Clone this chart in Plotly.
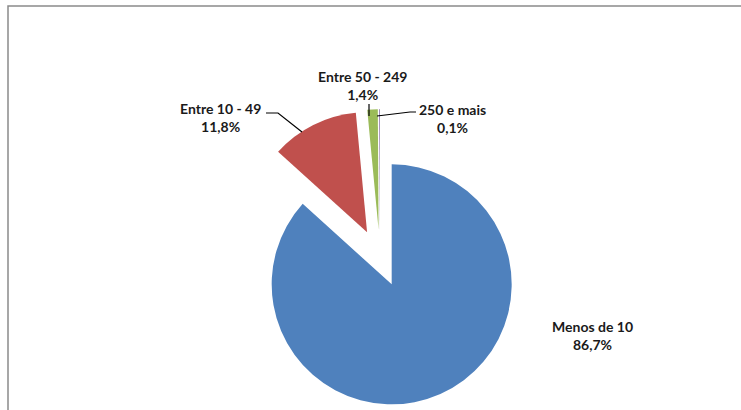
import plotly.graph_objects as go

# Data
categories = ["Menos de 10", "Entre 10 - 49", "Entre 50 - 249", "250 e mais"]
values = [86.7, 11.8, 1.4, 0.1]
value_labels = ["86,7%", "11,8%", "1,4%", "0,1%"]
colors = ["#4F81BD", "#C0504D", "#9BBB59", "#8064A2"]

W, H = 741, 410


def px(x):
    return x / W


def py(y):
    return 1 - y / H


# pie geometry (pixels)
cx, cy = 380, 258
pull = 0.24
radius = 120
half = radius * (1 + pull)

fig = go.Figure()
fig.add_trace(go.Pie(
    labels=categories,
    values=values,
    marker=dict(colors=colors, line=dict(width=0)),
    sort=False,
    direction="clockwise",
    rotation=0,
    pull=[pull] * len(values),
    textinfo="none",
    hoverinfo="label+percent",
    showlegend=False,
    domain=dict(x=[px(cx - half), px(cx + half)], y=[max(0, py(cy + half)), py(cy - half)]),
))

label_pos = {
    "Menos de 10": (592, 335),
    "Entre 10 - 49": (220, 117),
    "Entre 50 - 249": (362, 86),
    "250 e mais": (452, 118),
}

annotations = []
for cat, lab in zip(categories, value_labels):
    x, y = label_pos[cat]
    annotations.append(dict(
        x=px(x), y=py(y), xref="paper", yref="paper",
        text=f"<b>{cat}</b><br><b>{lab}</b>",
        showarrow=False, align="center",
        xanchor="center", yanchor="middle",
        font=dict(family="Lato, Open Sans, sans-serif", size=14, color="#1a1a1a"),
    ))


def path(points):
    return "M " + " L ".join(f"{px(a):.5f},{py(b):.5f}" for a, b in points)


leader_lines = [
    [(266, 113), (278, 113), (302, 132)],
    [(369, 104), (369, 116)],
    [(377, 116), (410, 112), (416, 112)],
]

shapes = []
for pts in leader_lines:
    shapes.append(dict(type="path", path=path(pts), xref="paper", yref="paper",
                       line=dict(color="#000000", width=1.2)))

# chart area border
shapes.append(dict(type="rect", xref="paper", yref="paper",
                   x0=px(8), x1=px(760), y0=py(430), y1=py(6),
                   line=dict(color="#8a8a8a", width=1.5)))

fig.update_layout(
    width=W, height=H,
    margin=dict(l=0, r=0, t=0, b=0),
    paper_bgcolor="white",
    plot_bgcolor="white",
    annotations=annotations,
    shapes=shapes,
)

fig.write_html("out.html")
